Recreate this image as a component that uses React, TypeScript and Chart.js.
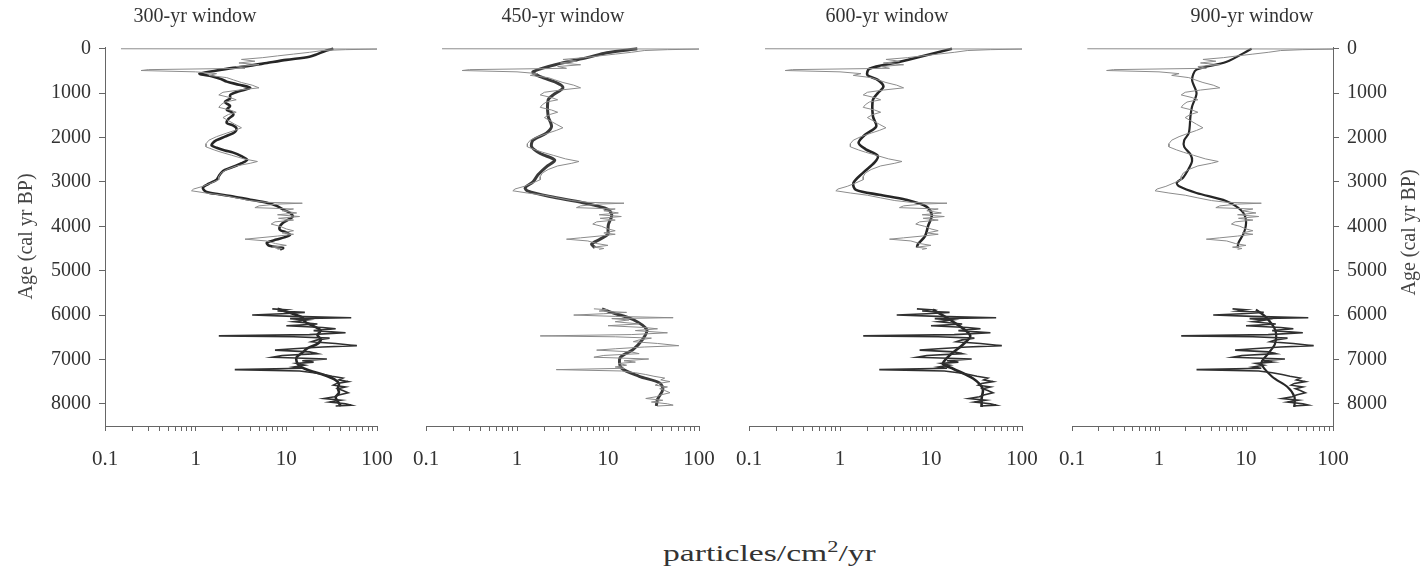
import React, { useEffect, useRef } from "react";
import { Chart, registerables } from "chart.js";

Chart.register(...registerables);

// ---- axis labels -------------------------------------------------------
const PANEL_TITLES = ["300-yr window", "450-yr window", "600-yr window", "900-yr window"];
const AGE_TICKS = [0, 1000, 2000, 3000, 4000, 5000, 6000, 7000, 8000];
const FLUX_MAJOR_TICKS = [0.1, 1, 10, 100];
const FLUX_MAJOR_LABELS = ["0.1", "1", "10", "100"];
const AGE_TITLE = "Age (cal yr BP)";

// ---- interpolated charcoal accumulation (shared by all panels) ----------
const rawUpperAge = [
  0, 6, 20, 40, 80, 120, 160, 200, 240, 280, 320, 360, 400, 440, 470, 490, 520, 560, 600, 650,
  700, 760, 820, 880, 930, 980, 1040, 1100, 1150, 1200, 1260, 1320, 1380, 1430, 1480, 1550, 1620,
  1700, 1780, 1840, 1900, 1980, 2060, 2140, 2210, 2280, 2330, 2400, 2480, 2540, 2580, 2640, 2720,
  2800, 2880, 2950, 3020, 3100, 3160, 3200, 3250, 3300, 3360, 3420, 3460, 3480, 3500, 3540, 3580,
  3610, 3650, 3700, 3740, 3780, 3820, 3860, 3900, 3950, 4000, 4060, 4100, 4150, 4180, 4220, 4260,
  4290, 4330, 4390, 4430, 4470, 4500, 4520,
];
const rawUpperFlux = [
  0.15, 100, 45, 25, 18, 12, 8, 5.5, 3.2, 4.5, 3.0, 5.0, 2.8, 3.5, 0.3, 0.25, 1.0, 1.7, 1.4, 2.2,
  2.6, 3.2, 4.2, 5.0, 3.0, 2.0, 1.8, 2.4, 2.8, 2.1, 1.9, 1.8, 2.4, 2.8, 2.3, 2.0, 2.3,
  2.7, 3.2, 2.7, 2.2, 1.7, 1.4, 1.3, 1.3, 1.6, 1.9, 2.5, 3.4, 4.8, 4.0, 2.8, 2.2,
  1.9, 1.8, 1.8, 1.5, 1.2, 0.95, 0.9, 1.3, 2.0, 2.8, 4.0, 6.0, 15, 8, 5.0, 4.5,
  12, 9, 13, 8, 14, 8.2, 12, 7.5, 6.8, 8.5, 10, 12, 9, 12, 8, 5,
  3.5, 6, 7.6, 10, 7, 9, 8,
];
const rawLowerAge = [
  5860, 5880, 5910, 5940, 5970, 6000, 6030, 6060, 6080, 6110, 6150, 6200, 6240, 6280, 6310, 6350,
  6400, 6440, 6470, 6490, 6520, 6560, 6600, 6640, 6690, 6720, 6760, 6790, 6830, 6870, 6910, 6950,
  6990, 7030, 7060, 7090, 7130, 7170, 7200, 7230, 7260, 7300, 7340, 7380, 7420, 7460, 7500, 7540,
  7580, 7620, 7660, 7700, 7750, 7800, 7840, 7880, 7920, 7960, 8000, 8030, 8050,
];
const rawLowerFlux = [
  7, 10, 8, 16, 9, 4.2, 12, 52, 11, 17, 12, 22, 10, 25, 35, 20,
  45, 18, 1.8, 12, 30, 22, 19, 35, 60, 25, 12, 7.5, 18, 22, 9, 7,
  28, 15, 20, 13, 16, 12, 15, 2.7, 14, 20, 26, 32, 42, 38, 48, 36,
  33, 45, 37, 42, 48, 38, 34, 26, 40, 30, 45, 52, 35,
];

// ---- smoothed records, one per window width ----------------------------
const s300UpperAge = [
  0, 60, 120, 180, 250, 320, 380, 430, 500, 560, 620, 680, 740, 810, 880, 960, 1040, 1120, 1200,
  1290, 1370, 1430, 1490, 1580, 1670, 1730, 1780, 1840, 1900, 1980, 2060, 2120, 2180, 2230, 2290,
  2340, 2420, 2500, 2580, 2660, 2730, 2800, 2870, 2950, 3040, 3130, 3220, 3280, 3330, 3400, 3470,
  3540, 3620, 3700, 3780, 3850, 3920, 4000, 4080, 4140, 4190, 4250, 4300, 4370, 4440, 4490, 4520,
];
const s300UpperFlux = [
  33, 26, 22, 18, 10, 6.1, 4, 2.6, 1.6, 1.1, 1.5, 1.9, 2.2, 3.0, 4.0, 3.0, 2.4, 2.4, 2.1,
  2.4, 2.2, 2.5, 2.6, 2.3, 2.2, 2.6, 2.8, 2.8, 2.6, 2.1, 1.7, 1.55, 1.5, 1.7, 2.1,
  2.6, 3.2, 3.7, 3.2, 2.6, 2.1, 1.9, 1.8, 1.7, 1.4, 1.2, 1.3, 1.8, 2.6, 4, 6.1,
  7.8, 9.2, 11, 11.8, 10.5, 9.2, 8.5, 8.5, 10, 11, 9.5, 7.8, 6.1, 6.5, 9.2, 8.5,
];
const s300LowerAge = [
  5860, 5950, 6050, 6150, 6250, 6350, 6450, 6550, 6650, 6750, 6850, 6950, 7050, 7150, 7250, 7350,
  7450, 7550, 7650, 7750, 7850, 7950, 8050,
];
const s300LowerFlux = [
  8, 11, 15, 16, 20, 24, 22, 24, 22, 17, 15, 13, 13, 14, 18, 26,
  34, 38, 37, 38, 35, 37, 40,
];

const s450UpperAge = [
  0, 90, 200, 330, 520, 630, 770, 880, 1040, 1150, 1520, 1750, 1900, 2060, 2210, 2360, 2510,
  2660, 2840, 3000, 3130, 3200, 3330, 3470, 3620, 3750, 3960, 4100, 4180, 4290, 4400, 4480,
];
const s450UpperFlux = [
  21, 9.7, 5.9, 3.0, 1.5, 1.8, 2.75, 3.2, 2.5, 2.2, 2.2, 2.4, 2.1, 1.5, 1.45, 1.8, 2.6,
  2.1, 1.7, 1.5, 1.23, 1.3, 2.3, 5.3, 10, 11, 10.1, 10, 10, 8.2, 6.6, 7.2,
];
const s450LowerAge = [5860, 5950, 6100, 6330, 6550, 6780, 6960, 7190, 7380, 7530, 7680, 7900, 8050];
const s450LowerFlux = [8.6, 11.3, 18.8, 26.7, 24, 18.8, 13.6, 14, 22, 37, 40, 35, 34];

const s600UpperAge = [
  0, 180, 310, 450, 590, 700, 850, 1000, 1150, 1520, 1750, 1930, 2120, 2260, 2410, 2560, 2790,
  3030, 3180, 3290, 3400, 3560, 3750, 3990, 4220, 4400, 4480,
];
const s600UpperFlux = [
  17, 7.6, 4.2, 2.1, 2.0, 2.6, 3.0, 2.6, 2.3, 2.3, 2.5, 1.9, 1.6, 1.9, 2.6, 2.4, 1.8,
  1.4, 1.5, 2.7, 5.3, 9, 10.2, 9.3, 8.6, 7.2, 7,
];
const s600LowerAge = [5880, 6150, 6460, 6680, 6910, 7100, 7210, 7430, 7660, 7880, 8070];
const s600LowerFlux = [10.5, 17.5, 27, 22, 16, 13.5, 17.5, 29, 37, 36, 36];

const s900UpperAge = [
  0, 300, 470, 700, 1000, 1300, 1520, 1900, 2060, 2210, 2380, 2530, 2700, 2900, 3020, 3100,
  3250, 3430, 3650, 3870, 4140, 4370, 4480,
];
const s900UpperFlux = [
  11.6, 5.9, 2.7, 2.4, 2.7, 2.4, 2.3, 2.2, 1.95, 1.95, 2.3, 2.4, 2.2, 1.9, 1.6, 1.7,
  2.7, 5.9, 8.9, 10, 9.5, 8.2, 8,
];
const s900LowerAge = [5880, 6030, 6330, 6640, 6870, 7090, 7390, 7620, 7840, 8070];
const s900LowerFlux = [13, 16.6, 21.6, 21.6, 18, 15, 20, 30, 36, 36];

const toPoints = (ages: number[], flux: number[]) =>
  ages.map((age, i) => ({ x: flux[i], y: age }));

const SERIF = '"Liberation Serif", "Times New Roman", serif';

type PanelSpec = {
  title: string;
  smoothUpper: { x: number; y: number }[];
  smoothLower: { x: number; y: number }[];
  left: number; // canvas left edge on the page
  width: number; // canvas width
  padLeft: number;
  padRight: number;
  titleX: number; // title centre on the page
  yAxis: "left" | "right" | "none";
  lowerRawColor: string;
  lowerRawWidth: number;
  smoothColor: string;
  smoothWidth: number;
};

const PANELS: PanelSpec[] = [
  {
    title: PANEL_TITLES[0],
    smoothUpper: toPoints(s300UpperAge, s300UpperFlux),
    smoothLower: toPoints(s300LowerAge, s300LowerFlux),
    left: 0, width: 409, padLeft: 0, padRight: 32, titleX: 195, yAxis: "left",
    lowerRawColor: "#303030", lowerRawWidth: 1.6, smoothColor: "#262626", smoothWidth: 2.6,
  },
  {
    title: PANEL_TITLES[1],
    smoothUpper: toPoints(s450UpperAge, s450UpperFlux),
    smoothLower: toPoints(s450LowerAge, s450LowerFlux),
    left: 396, width: 335, padLeft: 30, padRight: 32, titleX: 563, yAxis: "none",
    lowerRawColor: "#8a8a8a", lowerRawWidth: 1, smoothColor: "#3a3a3a", smoothWidth: 3,
  },
  {
    title: PANEL_TITLES[2],
    smoothUpper: toPoints(s600UpperAge, s600UpperFlux),
    smoothLower: toPoints(s600LowerAge, s600LowerFlux),
    left: 719, width: 335, padLeft: 30, padRight: 32, titleX: 887, yAxis: "none",
    lowerRawColor: "#303030", lowerRawWidth: 1.6, smoothColor: "#262626", smoothWidth: 2.6,
  },
  {
    title: PANEL_TITLES[3],
    smoothUpper: toPoints(s900UpperAge, s900UpperFlux),
    smoothLower: toPoints(s900LowerAge, s900LowerFlux),
    left: 1042, width: 382, padLeft: 30, padRight: 0, titleX: 1252, yAxis: "right",
    lowerRawColor: "#303030", lowerRawWidth: 1.6, smoothColor: "#262626", smoothWidth: 2.2,
  },
];

const CANVAS_HEIGHT = 480;
const AREA_TOP = 47;
const AREA_BOTTOM = 426;

// Draws the panel heading and, on the right-hand panel, the age title
// reading bottom-to-top like the one on the left.
const panelTitlePlugin = {
  id: "panelTitle",
  afterDraw(chart: any, _args: any, opts: any) {
    const ctx = chart.ctx;
    ctx.save();
    ctx.font = `20px ${SERIF}`;
    ctx.fillStyle = "#333";
    ctx.textAlign = "center";
    ctx.textBaseline = "middle";
    ctx.fillText(opts.text, opts.x, opts.y);
    if (opts.sideTitle) {
      const area = chart.chartArea;
      ctx.fillStyle = "#444";
      ctx.translate(opts.sideTitleX, (area.top + area.bottom) / 2 - 4);
      ctx.rotate(-Math.PI / 2);
      ctx.fillText(opts.sideTitle, 0, 0);
    }
    ctx.restore();
  },
};

function Panel({ spec }: { spec: PanelSpec }) {
  const ref = useRef<HTMLCanvasElement | null>(null);

  useEffect(() => {
    if (!ref.current) return;
    const axisWidth = spec.yAxis === "left" ? 105 - spec.padLeft : spec.yAxis === "right" ? 91 : 0;

    const chart = new Chart(ref.current, {
      type: "scatter",
      data: {
        datasets: [
          {
            data: toPoints(rawUpperAge, rawUpperFlux),
            showLine: true,
            borderColor: "#8c8c8c",
            borderWidth: 1,
            pointRadius: 0,
            tension: 0,
          },
          {
            data: toPoints(rawLowerAge, rawLowerFlux),
            showLine: true,
            borderColor: spec.lowerRawColor,
            borderWidth: spec.lowerRawWidth,
            pointRadius: 0,
            tension: 0,
          },
          {
            data: spec.smoothUpper,
            showLine: true,
            borderColor: spec.smoothColor,
            borderWidth: spec.smoothWidth,
            pointRadius: 0,
            tension: 0.3,
          },
          {
            data: spec.smoothLower,
            showLine: true,
            borderColor: spec.smoothColor,
            borderWidth: spec.smoothWidth,
            pointRadius: 0,
            tension: 0.3,
          },
        ],
      },
      options: {
        responsive: false,
        animation: false,
        devicePixelRatio: 1,
        layout: {
          padding: { left: spec.padLeft, right: spec.padRight, top: AREA_TOP, bottom: 0 },
        },
        plugins: {
          legend: { display: false },
          tooltip: { enabled: false },
          panelTitle: {
            text: spec.title,
            x: spec.titleX - spec.left,
            y: 17,
            sideTitle: spec.yAxis === "right" ? AGE_TITLE : null,
            sideTitleX: 1410 - spec.left,
          },
        } as any,
        scales: {
          x: {
            type: "logarithmic",
            min: 0.1,
            max: 100,
            afterBuildTicks: (axis: any) => {
              const ticks: { value: number }[] = [];
              for (let d = 0; d < FLUX_MAJOR_TICKS.length - 1; d++) {
                for (let m = 1; m <= 9; m++) ticks.push({ value: FLUX_MAJOR_TICKS[d] * m });
              }
              ticks.push({ value: FLUX_MAJOR_TICKS[FLUX_MAJOR_TICKS.length - 1] });
              axis.ticks = ticks;
            },
            afterFit: (axis: any) => {
              axis.height = CANVAS_HEIGHT - AREA_BOTTOM;
            },
            grid: { drawOnChartArea: false, drawTicks: true, tickLength: 5, color: "#666" },
            border: { display: true, color: "#666", width: 1 },
            ticks: {
              autoSkip: false,
              maxRotation: 0,
              padding: 16,
              color: "#333",
              font: { family: SERIF, size: 21 },
              callback: (value: any) => {
                const v = Number(value);
                const i = FLUX_MAJOR_TICKS.findIndex((t) => Math.abs(t - v) / t < 1e-6);
                return i >= 0 ? FLUX_MAJOR_LABELS[i] : "";
              },
            },
          },
          y: {
            type: "linear",
            display: spec.yAxis !== "none",
            position: spec.yAxis === "right" ? "right" : "left",
            reverse: true,
            min: -40,
            max: 8500,
            afterBuildTicks: (axis: any) => {
              axis.ticks = AGE_TICKS.map((v) => ({ value: v }));
            },
            afterFit: (axis: any) => {
              axis.width = axisWidth;
            },
            grid: { drawOnChartArea: false, drawTicks: true, tickLength: 6, color: "#666" },
            border: { display: true, color: "#666", width: 1 },
            ticks: {
              padding: 8,
              color: "#333",
              font: { family: SERIF, size: 20 },
              callback: (value: any) => String(value),
            },
            title: {
              display: spec.yAxis === "left",
              text: AGE_TITLE,
              color: "#444",
              font: { family: SERIF, size: 20 },
              padding: { top: 15, bottom: 4 },
            },
          },
        },
      } as any,
      plugins: [panelTitlePlugin],
    });

    return () => chart.destroy();
  }, [spec]);

  return (
    <canvas
      ref={ref}
      width={spec.width}
      height={CANVAS_HEIGHT}
      style={{
        position: "absolute",
        left: spec.left,
        top: 0,
        width: spec.width,
        height: CANVAS_HEIGHT,
      }}
    />
  );
}

export default function App() {
  return (
    <div
      style={{
        position: "fixed",
        left: 0,
        top: 0,
        width: 1424,
        height: 575,
        background: "#fff",
        overflow: "hidden",
      }}
    >
      {PANELS.map((p) => (
        <Panel key={p.title} spec={p} />
      ))}
      <div
        style={{
          position: "absolute",
          left: 663,
          top: 541,
          fontFamily: SERIF,
          fontSize: 24,
          lineHeight: "24px",
          color: "#333",
          whiteSpace: "nowrap",
          transform: "scaleX(1.4)",
          transformOrigin: "left top",
        }}
      >
        particles/cm<sup style={{ fontSize: 16, verticalAlign: "9px", lineHeight: 0 }}>2</sup>/yr
      </div>
    </div>
  );
}
